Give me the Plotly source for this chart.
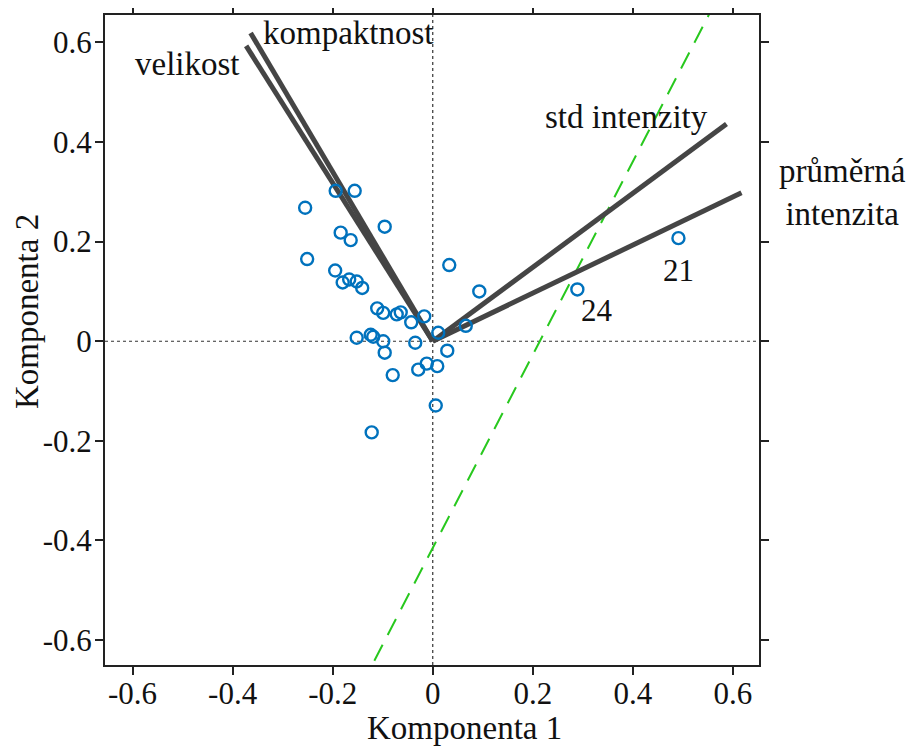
import plotly.graph_objects as go

# Scores (PC1, PC2)
score_pc1 = [-0.194, -0.156, -0.255, -0.096, -0.184, -0.164, -0.251, 0.033, -0.195, -0.180,
             -0.167, -0.152, -0.141, 0.093, -0.111, -0.099, -0.072, -0.064, -0.017, -0.043,
             0.066, 0.011, -0.152, -0.124, -0.119, -0.099, -0.035, 0.029, -0.096, -0.012,
             0.009, -0.029, -0.080, 0.006, -0.122, 0.289, 0.491]
score_pc2 = [0.302, 0.302, 0.268, 0.230, 0.218, 0.203, 0.165, 0.153, 0.142, 0.118,
             0.124, 0.120, 0.107, 0.100, 0.066, 0.057, 0.054, 0.058, 0.050, 0.038,
             0.031, 0.017, 0.007, 0.013, 0.009, 0.000, -0.003, -0.019, -0.023, -0.045,
             -0.050, -0.057, -0.068, -0.129, -0.183, 0.104, 0.207]

# Labelled observations
obs_labels = ["24", "21"]
obs_label_x = [0.329, 0.491]
obs_label_y = [0.062, 0.143]

# Loadings
var_names = ["velikost", "kompaktnost", "std intenzity", "průměrná<br>intenzita"]
load_pc1 = [-0.373, -0.364, 0.587, 0.617]
load_pc2 = [0.593, 0.619, 0.436, 0.298]
var_label_x = [-0.491, -0.168, 0.387, 0.819]
var_label_y = [0.556, 0.618, 0.450, 0.298]

# Green dashed line y = slope * x + intercept
green_slope = 1.94
green_intercept = -0.415
green_x = [-0.25, 0.65]

tick_vals = [-0.6, -0.4, -0.2, 0, 0.2, 0.4, 0.6]
tick_text = ["-0.6", "-0.4", "-0.2", "0", "0.2", "0.4", "0.6"]

x_range = [-0.655, 0.652]
y_range = [-0.65, 0.655]

FONT = "Liberation Serif"
TXT = "#111"

fig = go.Figure()

# green dashed line
fig.add_trace(go.Scatter(
    x=green_x, y=[green_slope * v + green_intercept for v in green_x],
    mode="lines", line=dict(color="rgb(40,200,30)", width=2, dash="18px,11px"),
    hoverinfo="skip", showlegend=False))

# loading vectors
for lx, ly in zip(load_pc1, load_pc2):
    fig.add_trace(go.Scatter(
        x=[0, lx], y=[0, ly], mode="lines",
        line=dict(color="#454545", width=5),
        hoverinfo="skip", showlegend=False))

# scores
fig.add_trace(go.Scatter(
    x=score_pc1, y=score_pc2, mode="markers",
    marker=dict(symbol="circle-open", size=12, color="#0072BD", line=dict(width=2.4, color="#0072BD")),
    showlegend=False))


def to_paper(v, rng):
    return (v - rng[0]) / (rng[1] - rng[0])


annotations = []
for name, x, y in zip(var_names, var_label_x, var_label_y):
    annotations.append(dict(x=to_paper(x, x_range), y=to_paper(y, y_range), xref="paper", yref="paper",
                            xanchor="center", yanchor="middle",
                            text=name, showarrow=False, align="center",
                            font=dict(family=FONT, size=33, color=TXT)))
for name, x, y in zip(obs_labels, obs_label_x, obs_label_y):
    annotations.append(dict(x=x, y=y, xref="x", yref="y", text=name, showarrow=False,
                            xanchor="center", yanchor="middle",
                            font=dict(family=FONT, size=31, color=TXT)))

# axis titles
annotations.append(dict(x=0.55, y=0, xref="paper", yref="paper", yshift=-63, text="Komponenta 1",
                        xanchor="center", yanchor="middle",
                        showarrow=False, font=dict(family=FONT, size=33, color=TXT)))
annotations.append(dict(x=0, y=0.543, xref="paper", yref="paper", xshift=-78, text="Komponenta 2",
                        xanchor="center", yanchor="middle",
                        textangle=-90, showarrow=False, font=dict(family=FONT, size=33, color=TXT)))

shapes = [
    dict(type="line", xref="x", yref="paper", x0=0, x1=0, y0=0, y1=1,
         line=dict(color="#333", width=1.2, dash="dot"), layer="below"),
    dict(type="line", xref="paper", yref="y", x0=0, x1=1, y0=0, y1=0,
         line=dict(color="#333", width=1.2, dash="dot"), layer="below"),
]

axis_common = dict(
    tickvals=tick_vals, ticktext=tick_text, ticks="outside", ticklen=8, tickwidth=2,
    tickcolor="#222", showline=True, linewidth=2, linecolor="#222", mirror="ticks",
    showgrid=False, zeroline=False, automargin=False,
    tickfont=dict(family=FONT, size=31, color=TXT),
)

# page body has an 8px default margin, so the figure is 8px smaller and margins shifted
fig.update_layout(
    width=907, height=743,
    margin=dict(l=97, r=156, t=7, b=86),
    plot_bgcolor="white", paper_bgcolor="white",
    xaxis=dict(range=x_range, ticklabelstandoff=-8, **axis_common),
    yaxis=dict(range=y_range, ticklabelstandoff=-3, **axis_common),
    annotations=annotations, shapes=shapes,
)

fig.write_html("out.html")
